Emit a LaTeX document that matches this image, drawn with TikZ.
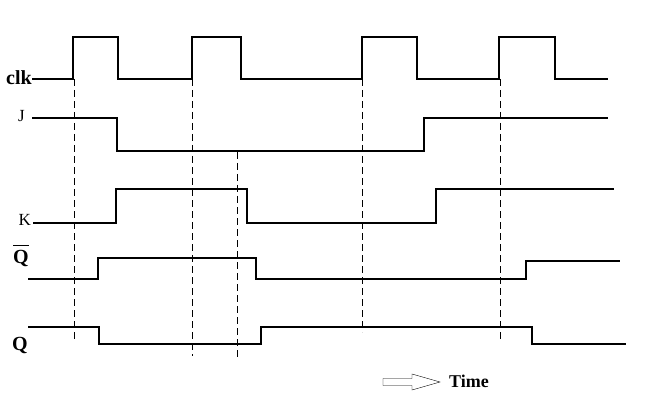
\documentclass[tikz,border=0pt]{standalone}
\usepackage{fontspec}
\setmainfont{Liberation Serif}
\usetikzlibrary{positioning}

\begin{document}
\begin{tikzpicture}[
		x=1pt, y=-1pt,
		wave/.style={line width=2.6pt, line join=miter},
		guide/.style={thin, dash pattern=on 7pt off 4pt},
		sig/.style={font=\bfseries\fontsize{20}{20}\selectfont, inner sep=0pt},
		sigsmall/.style={font=\fontsize{17}{17}\selectfont, inner sep=0pt}
		]
		\useasboundingbox (0,0) rectangle (650,406);
		
		% ===== tên tín hiệu =====
		\node[sig, anchor=east] (clk) at (32,78) {clk};
		\node[sigsmall, anchor=east] (J) at (25,116) {J};
		\node[sigsmall, anchor=east] (K) at (31,220) {K};
		\node[sig] (Qn) at (21,256) {$\overline{\rule{0pt}{17pt}\mbox{Q}}$};
		\node[sig] (Q) at (20,345) {Q};
		
		% ===== dạng sóng =====
		\draw[wave] (32,79) -- (73,79) -- (73,37) -- (118,37) -- (118,79)
		-- (192,79) -- (192,37) -- (241,37) -- (241,79)
		-- (362,79) -- (362,37) -- (417,37) -- (417,79)
		-- (499,79) -- (499,37) -- (555,37) -- (555,79) -- (608,79);
		\draw[wave] (32,118) -- (117,118) -- (117,151) -- (424,151)
		-- (424,118) -- (608,118);
		\draw[wave] (33,223) -- (116,223) -- (116,189) -- (247,189)
		-- (247,223) -- (436,223) -- (436,189) -- (614,189);
		\draw[wave] (28,279) -- (98,279) -- (98,258) -- (256,258)
		-- (256,279) -- (526,279) -- (526,261) -- (620,261);
		\draw[wave] (28,327) -- (99,327) -- (99,344) -- (261,344)
		-- (261,327) -- (532,327) -- (532,344) -- (626,344);
		
		% ===== đường gióng =====
		\foreach \x/\ya/\yb in {74/79/342, 192/79/356, 237/152/360, 362/79/332, 500/79/339}{
			\draw[guide] (\x,\ya) -- (\x,\yb);
		}
		
		% ===== mũi tên thời gian =====
		\draw[thin] (383,378.5) -- (412,378.5) -- (412,374) -- (440,382)
		-- (412,390) -- (412,385.5) -- (383,385.5) -- cycle;
		\node[sig, anchor=west, font=\bfseries\fontsize{18}{18}\selectfont] (time) at (449,381) {Time};
		
	\end{tikzpicture}
\end{document}
